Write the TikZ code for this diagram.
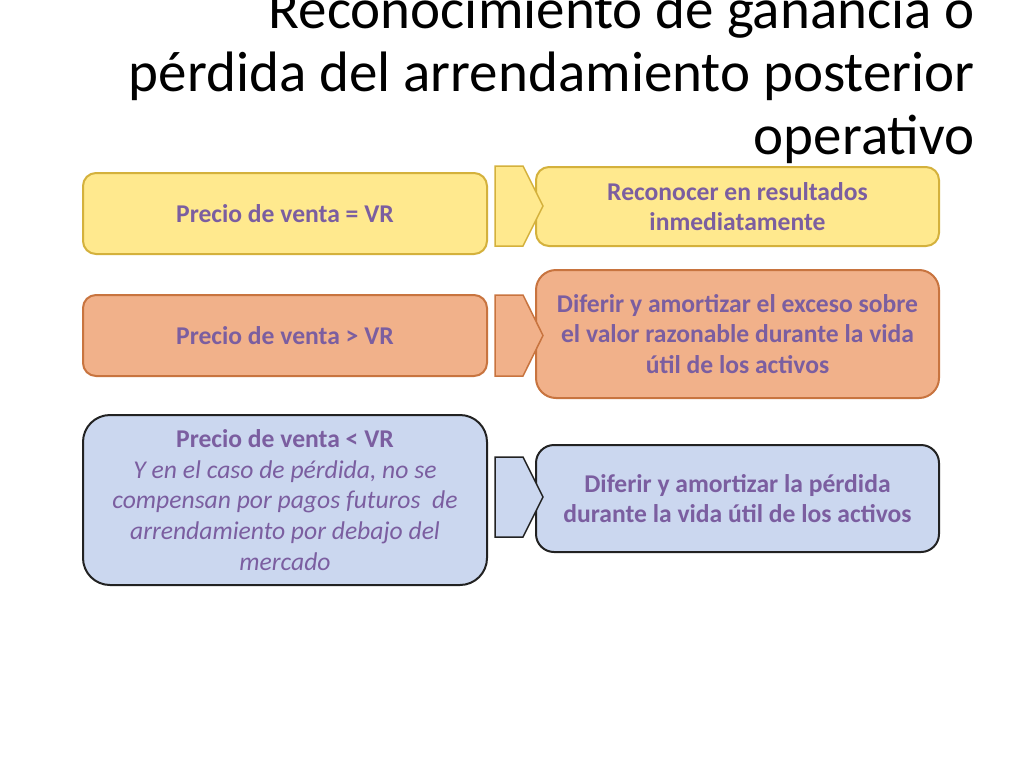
\documentclass[tikz,border=0pt]{standalone}
\usepackage{fontspec}
\setmainfont{Carlito}
\usetikzlibrary{
    positioning
}
\definecolor{morado}{HTML}{7B5EA0}
\definecolor{amarillo}{HTML}{FFE98E}
\definecolor{amarilloborde}{HTML}{D4B13C}
\definecolor{naranja}{HTML}{F1B18A}
\definecolor{naranjaborde}{HTML}{C8743F}
\definecolor{azul}{HTML}{CBD7EF}
\definecolor{azulborde}{HTML}{222222}

\begin{document}
\begin{tikzpicture}[x=1pt, y=-1pt,
    caja/.style={draw, line width=2pt, inner sep=0pt, align=center,
        text=morado, font=\bfseries\fontsize{25.6}{30.7}\selectfont},
    flecha/.style={line width=1.5pt, line join=miter}
]
    \fill[white] (0,0) rectangle (1024,768);
    \useasboundingbox (0,0) rectangle (1024,768);

    % titulo
    \node[anchor=north east, align=right, inner sep=0pt,
          font=\fontsize{57}{63}\selectfont] (titulo) at (975,-11)
        {Reconocimiento de ganancia o\\
         pérdida del arrendamiento posterior\\
         operativo};

    % fila 1
    \node[caja, fill=amarillo, draw=amarilloborde, rounded corners=13pt,
          minimum width=404pt, minimum height=81pt] (igual) at (285,213.5)
        {Precio de venta = VR};
    \node[caja, fill=amarillo, draw=amarilloborde, rounded corners=13pt,
          minimum width=403pt, minimum height=79pt] (igualres) at (737.5,206.5)
        {Reconocer en resultados\\ inmediatamente};

    % fila 2
    \node[caja, fill=naranja, draw=naranjaborde, rounded corners=13pt,
          minimum width=404pt, minimum height=81pt] (mayor) at (285,335.5)
        {Precio de venta > VR};
    \node[caja, fill=naranja, draw=naranjaborde, rounded corners=20pt,
          minimum width=403pt, minimum height=128pt] (mayorres) at (737.5,334)
        {Diferir y amortizar el exceso sobre\\
         el valor razonable durante la vida\\
         útil de los activos};

    % fila 3
    \node[caja, fill=azul, draw=azulborde, rounded corners=27pt,
          minimum width=404pt, minimum height=170pt] (menor) at (285,500)
        {Precio de venta < VR\\
         \mdseries\itshape Y en el caso de pérdida, no se\\
         \mdseries\itshape compensan por pagos futuros~ de\\
         \mdseries\itshape arrendamiento por debajo del\\
         \mdseries\itshape mercado};
    \node[caja, fill=azul, draw=azulborde, rounded corners=18pt,
          minimum width=403pt, minimum height=107pt] (menorres) at (737.5,498.5)
        {Diferir y amortizar la pérdida\\
         durante la vida útil de los activos};

    % flechas
    \coordinate (f1) at (495,166);
    \coordinate (f2) at (495,295);
    \coordinate (f3) at (495,457);
    \filldraw[flecha, fill=amarillo, draw=amarilloborde]
        (f1) -- ++(28,0) -- ++(20,40) -- ++(-20,40) -- ++(-28,0) -- cycle;
    \filldraw[flecha, fill=naranja, draw=naranjaborde]
        (f2) -- ++(28,0) -- ++(20,40.5) -- ++(-20,40.5) -- ++(-28,0) -- cycle;
    \filldraw[flecha, fill=azul, draw=azulborde]
        (f3) -- ++(28,0) -- ++(20,40) -- ++(-20,40) -- ++(-28,0) -- cycle;
\end{tikzpicture}
\end{document}
